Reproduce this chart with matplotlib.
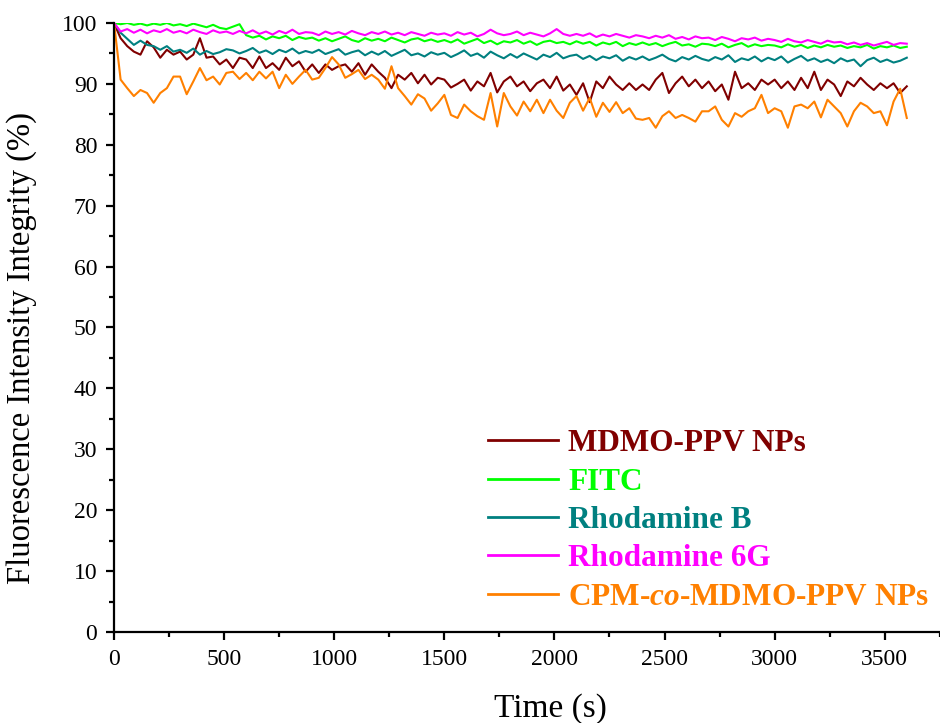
import numpy as np
import matplotlib
matplotlib.use('Agg')
import matplotlib.pyplot as plt
from matplotlib.ticker import MultipleLocator

plt.rcParams['font.family'] = ['Liberation Serif', 'DejaVu Serif']
plt.rcParams['mathtext.fontset'] = 'custom'
plt.rcParams['mathtext.it'] = 'Liberation Serif:italic:bold'
plt.rcParams['mathtext.rm'] = 'Liberation Serif:bold'

# time axis, one reading every 30 s
time_s = np.arange(0, 3601, 30)

# values, one row per 300 s
mdmo_ppv = [
    100, 97.5, 96.2, 95.3, 94.8, 97.0, 96.0, 94.3, 95.6, 94.8,
    95.3, 94.0, 94.8, 97.5, 94.3, 94.5, 93.2, 94.0, 92.6, 94.3,
    94.0, 92.6, 94.5, 92.6, 93.4, 92.3, 94.3, 92.9, 93.7, 92.0,
    93.2, 91.8, 93.2, 92.3, 92.9, 93.2, 92.0, 93.4, 91.5, 93.2,
    92.0, 91.0, 89.3, 91.5, 90.7, 91.8, 90.1, 91.5, 89.9, 91.0,
    90.7, 89.4, 90.0, 90.7, 88.9, 90.4, 89.6, 91.8, 88.6, 90.4,
    91.2, 89.6, 90.4, 88.8, 90.1, 90.7, 89.3, 91.2, 88.9, 89.9,
    88.2, 90.1, 87.0, 90.4, 89.3, 91.2, 89.9, 89.0, 90.1, 89.0,
    89.9, 89.0, 90.7, 91.8, 88.5, 90.1, 91.2, 89.6, 90.7, 89.3,
    90.4, 88.8, 89.9, 87.4, 92.0, 89.3, 90.1, 89.0, 90.7, 89.9,
    90.7, 89.3, 90.4, 89.0, 91.0, 89.3, 92.0, 89.0, 90.7, 89.9,
    88.0, 90.4, 89.6, 91.0, 89.9, 89.0, 90.1, 89.3, 90.1, 88.5,
    89.6]

fitc = [
    100, 99.8, 100, 99.7, 99.9, 99.6, 99.9, 99.7, 100, 99.6,
    99.8, 99.5, 99.9, 99.6, 99.3, 99.7, 99.2, 99.0, 99.4, 99.8,
    98.0, 97.6, 97.9, 97.3, 97.8, 97.5, 97.9, 97.2, 97.7, 97.4,
    97.6, 97.1, 97.5, 97.0, 97.4, 97.8, 97.2, 96.9, 97.5, 97.1,
    97.4, 97.0, 97.6, 97.2, 96.8, 97.3, 97.5, 97.0, 97.3, 96.9,
    97.2, 96.8, 97.3, 96.6, 97.0, 97.4, 96.7, 97.1, 96.5, 97.0,
    96.8, 97.2, 96.6, 97.0, 96.4, 96.9, 97.1, 96.7, 96.9, 96.5,
    97.0, 96.6, 96.9, 96.3, 96.8, 96.5, 96.9, 96.2, 96.7, 96.4,
    96.8, 96.4, 96.7, 96.2, 96.6, 96.9, 96.3, 96.5, 96.1, 96.6,
    96.5, 96.2, 96.6, 96.0, 96.4, 96.7, 96.1, 96.5, 96.2, 96.4,
    96.3, 96.0, 96.5, 96.1, 96.4, 95.9, 96.3, 96.0, 96.4, 96.1,
    96.3, 95.9, 96.2, 96.0, 96.4, 95.8, 96.2, 96.0, 96.3, 95.9,
    96.1]

rhodamine_b = [
    100, 98.4, 97.4, 96.4, 97.1, 96.4, 96.2, 95.6, 96.2, 95.3,
    95.6, 95.1, 95.8, 94.8, 95.4, 94.9, 95.2, 95.7, 95.5, 95.0,
    95.4, 95.9, 95.1, 95.5, 94.9, 95.6, 95.2, 95.8, 95.0, 95.4,
    95.1, 95.6, 94.9, 95.3, 95.7, 94.8, 95.2, 95.5, 94.7, 95.3,
    94.8, 95.4, 94.6, 95.1, 95.6, 94.7, 95.0, 94.5, 95.2, 94.8,
    95.1, 94.4, 94.9, 95.5, 94.6, 95.0, 94.3, 95.3, 94.7, 94.2,
    94.9, 94.3, 95.0, 94.5, 94.0, 94.8, 94.4, 95.1, 94.2, 94.6,
    94.8, 94.1, 94.6, 93.9, 94.5, 94.2, 94.7, 93.8, 94.4, 94.0,
    94.5, 93.9, 94.3, 94.8, 94.1, 93.7, 94.4, 94.0, 94.6, 94.1,
    93.8, 94.4, 94.0, 94.7, 93.6, 94.2, 93.9, 94.5, 93.7, 94.3,
    93.9, 94.5, 93.5, 94.1, 94.6, 93.8, 94.2, 93.6, 94.0, 93.4,
    94.2, 93.7, 94.0, 92.9, 93.9, 94.3, 93.6, 94.0, 93.5, 93.8,
    94.3]

rhodamine_6g = [
    100, 98.6, 99.0, 98.4, 98.9, 98.3, 98.8, 98.5, 99.0, 98.4,
    98.7, 98.3, 98.9, 98.5, 98.2, 98.8, 98.4, 98.6, 98.2, 98.7,
    98.3, 98.8, 98.2, 98.6, 98.1, 98.7, 98.3, 98.9, 98.2, 98.5,
    98.4, 98.0, 98.6, 98.2, 98.5, 98.1, 98.7, 98.3, 98.0, 98.5,
    98.2, 98.6, 98.1, 98.4, 98.0, 98.5, 98.2, 97.9, 98.4, 98.1,
    98.3, 97.9, 98.5, 98.1, 98.4, 97.8, 98.2, 98.9, 98.3, 98.0,
    98.2, 98.6, 98.0, 98.4, 98.1, 97.8, 98.3, 99.0, 98.2, 97.9,
    98.2, 97.9, 98.3, 97.7, 98.1, 97.8, 98.2, 97.9, 97.6, 98.0,
    97.8, 97.5, 97.9, 97.6, 98.0, 97.4, 97.7, 97.3, 97.8, 97.5,
    97.6, 97.2, 97.7, 97.4, 97.0, 97.5, 97.3, 97.6, 97.1, 97.4,
    97.2, 96.9, 97.4, 97.0, 96.8, 97.2, 96.9, 96.6, 97.1, 96.8,
    96.9, 96.5, 96.8, 96.4, 96.7, 96.3, 96.6, 96.9, 96.4, 96.7,
    96.6]

cpm_co_mdmo = [
    100, 90.7, 89.3, 88.0, 89.0, 88.5, 86.9, 88.5, 89.3, 91.2,
    91.2, 88.3, 90.4, 92.6, 90.6, 91.2, 89.9, 91.8, 92.0, 90.8,
    91.8, 90.6, 92.0, 90.9, 92.0, 89.3, 91.5, 90.0, 91.2, 92.3,
    90.7, 91.0, 92.6, 94.4, 93.2, 91.0, 91.6, 92.3, 90.8, 91.5,
    90.7, 89.2, 92.9, 89.3, 88.0, 86.6, 88.3, 87.6, 85.6, 86.8,
    88.2, 84.9, 84.4, 86.6, 85.5, 84.7, 84.1, 88.5, 83.0, 88.5,
    86.3, 84.8, 87.1, 85.5, 87.4, 85.2, 87.4, 85.6, 84.4, 86.9,
    88.0, 85.6, 87.7, 84.6, 86.9, 85.4, 87.0, 85.2, 86.0, 84.3,
    84.1, 84.4, 82.8, 84.7, 85.5, 84.4, 84.9, 84.4, 83.8, 85.5,
    85.5, 86.3, 84.1, 83.0, 85.2, 84.6, 85.5, 86.0, 88.2, 85.2,
    86.0, 85.5, 82.8, 86.3, 86.6, 86.0, 87.1, 84.5, 87.4, 86.3,
    85.2, 83.0, 85.5, 86.9, 86.3, 85.2, 85.5, 83.2, 87.1, 89.2,
    84.4]

series = [
    ("MDMO-PPV NPs", mdmo_ppv, "#800000"),
    ("FITC", fitc, "#00FF00"),
    ("Rhodamine B", rhodamine_b, "#008080"),
    ("Rhodamine 6G", rhodamine_6g, "#FF00FF"),
    ("CPM-$\\it{co}$-MDMO-PPV NPs", cpm_co_mdmo, "#FF8000"),
]

fig = plt.figure(figsize=(9.4, 7.23), dpi=100)
# the x axis runs past the right edge of the picture
ax = fig.add_axes([0.1213, 0.1259, 0.9277, 0.8423])

for label, vals, col in series:
    ax.plot(time_s, vals, color=col, lw=1.5, label=label)

ax.set_xlim(0, 3960)
ax.set_ylim(0, 100)
ax.xaxis.set_major_locator(MultipleLocator(500))
ax.xaxis.set_minor_locator(MultipleLocator(250))
ax.yaxis.set_major_locator(MultipleLocator(10))
ax.yaxis.set_minor_locator(MultipleLocator(5))
ax.spines['top'].set_visible(False)
ax.spines['right'].set_visible(False)
for s in ['left', 'bottom']:
    ax.spines[s].set_linewidth(1.6)
ax.tick_params(which='major', direction='out', length=6, width=1.6, labelsize=17, pad=6)
ax.tick_params(which='minor', direction='out', length=3.5, width=1.6)

ax.set_xlabel("Time (s)", fontsize=24, labelpad=17)
ax.set_ylabel("Fluorescence Intensity Integrity (%)", fontsize=23.5)
ax.yaxis.set_label_coords(-0.088, 0.466)

leg = ax.legend(loc='lower left', bbox_to_anchor=(0.405, 0.0), frameon=False,
                handlelength=2.25, handletextpad=0.33, labelspacing=0.3,
                borderaxespad=0.25, prop={'weight': 'bold', 'size': 22.5})
for txt, (label, vals, col) in zip(leg.get_texts(), series):
    txt.set_color(col)
for h in leg.get_lines():
    h.set_linewidth(2)

fig.savefig("out.png", dpi=100)
